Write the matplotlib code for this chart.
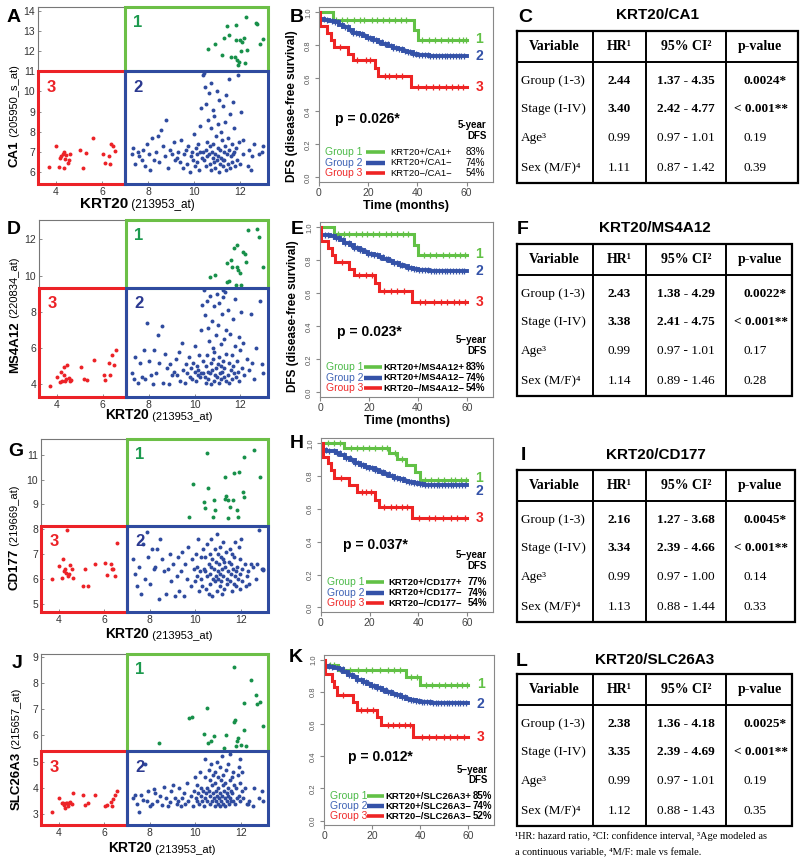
import numpy as np
import matplotlib
matplotlib.use("Agg")
import matplotlib.pyplot as plt
from matplotlib.patches import Rectangle

plt.rcParams['font.family'] = ['Liberation Sans', 'DejaVu Sans']
SERIF = ['Liberation Serif', 'DejaVu Serif']

# ---------------- scatter data (KRT20 vs marker gene) ----------------
# KRT20 negative patients (group 3)
krt20_neg = [3.71, 4.00, 4.15, 4.19, 4.22, 4.29, 4.33, 4.36, 4.39, 4.44, 4.51, 4.58,
             4.63, 5.06, 5.16, 5.30, 5.60, 6.04, 6.11, 6.29, 6.33, 6.40, 6.47, 6.58]
# KRT20 positive patients (groups 1 and 2)
krt20_pos = [7.28, 7.35, 7.42, 7.55, 7.60, 7.72, 7.78, 7.86, 7.93, 8.02, 8.08, 8.17, 8.24,
             8.33, 8.41, 8.47, 8.56, 8.63, 8.72, 8.79, 8.88, 8.94, 9.03, 9.11, 9.18,
             9.24, 9.30, 9.38, 9.44, 9.50, 9.57, 9.63, 9.69, 9.74, 9.80, 9.84, 9.90, 9.95,
             10.00, 10.03, 10.07, 10.10, 10.14, 10.17, 10.20, 10.24, 10.27, 10.30, 10.33, 10.37,
             10.41, 10.44, 10.45, 10.49, 10.51, 10.53, 10.54, 10.57, 10.59, 10.60,
             10.63, 10.66, 10.67, 10.68, 10.71, 10.73, 10.74, 10.77, 10.80, 10.81,
             10.83, 10.85, 10.86, 10.89, 10.91, 10.92, 10.95, 10.97, 10.99, 11.01,
             11.02, 11.05, 11.07, 11.08, 11.11, 11.13, 11.14, 11.17, 11.19, 11.21,
             11.23, 11.24, 11.27, 11.29, 11.30, 11.33, 11.35, 11.36, 11.39, 11.41,
             11.43, 11.45, 11.46, 11.49, 11.51, 11.52, 11.55, 11.57, 11.58, 11.61,
             11.63, 11.64, 11.67, 11.69, 11.71, 11.72, 11.75, 11.77, 11.79, 11.80,
             11.83, 11.85, 11.86, 11.89, 11.91, 11.93, 11.95, 11.97, 11.99, 12.02,
             12.04, 12.07, 12.10, 12.13, 12.16, 12.20, 12.24, 12.28, 10.38, 11.26,
             12.32, 12.38, 12.45, 12.52, 12.60, 12.66, 12.72, 12.80, 12.86, 12.93, 13.00, 12.97]

ca1_neg = [6.25, 7.29, 6.25, 6.71, 6.79, 6.87, 6.21, 6.99, 6.66, 6.83, 6.46, 6.59,
           6.87, 7.09, 6.21, 6.92, 7.70, 6.87, 6.46, 6.79, 6.38, 7.37, 7.29, 7.04]
ca1_pos = [6.9, 7.2, 6.4, 7.0, 6.8, 6.6, 7.1, 6.3, 7.4, 6.9, 6.1, 7.7, 6.6, 7.0, 7.8,
           6.5, 8.1, 7.3, 6.8, 8.6, 6.2, 7.1, 6.9, 7.5, 6.6,
           6.7, 7.0, 6.5, 7.6, 6.2, 6.9, 7.1, 6.4, 7.3, 6.0, 6.8, 7.0, 6.6, 7.9, 6.3,
           7.2, 6.9, 6.5, 7.4, 6.1, 8.3, 7.0, 9.2, 6.7, 10.8,
           10.9, 6.6, 10.2, 7.1, 6.3, 9.4, 7.5, 6.8, 8.6, 12.1,
           6.9, 9.9, 6.4, 7.3, 8.2, 6.1, 10.4, 7.0, 6.7, 9.1,
           7.4, 6.5, 8.8, 6.9, 12.35, 6.2, 7.8, 10.0, 6.6, 7.2,
           8.4, 6.8, 6.0, 9.6, 7.1, 6.4, 8.0, 6.7, 7.6, 11.82,
           6.3, 9.3, 7.0, 12.65, 6.6, 8.5, 7.3, 6.1, 9.8, 13.26,
           6.9, 7.7, 6.4, 10.6, 12.81, 7.1, 6.2, 8.9, 6.8, 11.71,
           7.4, 6.5, 9.5, 6.9, 8.2, 7.0, 11.71, 6.3, 13.31, 7.2,
           12.56, 6.6, 11.57, 11.33, 10.8, 7.5, 11.49, 6.4, 12.56, 11.99,
           9.0, 12.48, 6.9, 7.6, 12.65, 11.44, 13.69, 12.07, 7.0, 6.6,
           6.3, 7.1, 6.1, 6.8, 7.4, 13.42, 13.36, 6.9, 12.37, 7.0, 7.3, 12.6]

ms4a12_neg = [3.92, 4.41, 4.14, 4.69, 4.17, 4.97, 4.54, 4.17, 4.30, 5.09, 4.36, 4.17,
              4.25, 4.97, 4.32, 4.23, 5.33, 4.54, 4.23, 5.15, 4.54, 5.60, 5.09, 5.89]
ms4a12_pos = [4.6, 4.3, 5.5, 4.1, 5.2, 4.4, 5.9, 4.3, 7.4, 5.3, 4.5, 4.0, 5.9, 4.6, 6.7,
              5.2, 7.2, 4.1, 5.7, 4.9, 4.0, 5.1, 4.5, 4.7, 5.4,
              4.5, 5.8, 4.2, 6.3, 4.8, 4.1, 5.1, 4.6, 5.5, 4.4, 4.9, 4.3, 5.2, 4.7, 6.1,
              4.2, 5.0, 4.5, 4.8, 5.6, 4.4, 7.0, 4.6, 8.4, 5.3,
              9.2, 4.4, 7.8, 5.0, 4.1, 8.6, 5.6, 4.7, 7.1, 4.3,
              6.4, 9.94, 4.6, 8.9, 5.2, 4.0, 7.5, 4.8, 6.0, 5.4,
              4.2, 8.3, 5.8, 4.5, 10.03, 6.7, 4.9, 9.0, 4.4, 5.1,
              7.3, 4.1, 5.5, 8.5, 4.6, 6.2, 4.3, 5.0, 7.9, 4.7,
              5.3, 8.8, 4.4, 6.5, 4.9, 9.1, 4.2, 5.7, 7.0, 10.67,
              9.66, 4.5, 8.1, 5.2, 9.70, 4.1, 6.8, 4.8, 10.86, 5.6,
              10.49, 4.3, 7.6, 5.0, 11.50, 4.6, 6.1, 8.7, 9.48, 4.4,
              11.69, 5.3, 10.49, 10.31, 4.7, 6.6, 4.2, 10.12, 5.9, 8.0,
              9.48, 4.9, 6.3, 11.32, 4.5, 11.17, 10.77, 5.4, 4.6, 9.2,
              12.52, 4.8, 7.9, 5.2, 4.3, 6.0, 12.57, 12.15, 8.6, 5.1, 10.49, 4.6]

cd177_neg = [5.98, 6.52, 6.02, 6.79, 6.33, 6.42, 6.25, 7.97, 6.11, 6.20, 6.58, 6.42,
             6.05, 5.71, 6.38, 5.71, 6.62, 6.65, 6.15, 6.62, 6.42, 6.42, 6.11, 7.46]
cd177_pos = [6.8, 6.2, 5.7, 6.5, 5.4, 7.4, 6.0, 7.9, 6.9, 5.8, 7.2, 6.4, 6.5, 7.2, 5.2,
             7.6, 6.8, 6.3, 5.4, 6.4, 7.0, 5.9, 6.6, 5.3, 6.1,
             6.9, 5.5, 6.3, 7.1, 5.3, 6.6, 6.0, 7.3, 8.5, 5.7, 6.8, 9.8, 6.4, 5.9, 7.0,
             6.1, 6.5, 7.6, 5.5, 6.3, 6.9, 6.0, 5.7, 7.2, 6.4,
             6.3, 6.9, 8.84, 5.6, 11.05, 7.4, 6.1, 9.67, 6.6, 5.4,
             7.0, 6.2, 5.8, 7.6, 6.5, 5.3, 6.8, 8.5, 6.0, 9.17,
             6.4, 7.2, 8.77, 5.9, 6.7, 6.1, 7.8, 5.5, 6.3, 7.0,
             6.0, 6.6, 5.7, 7.3, 6.2, 5.9, 6.9, 6.4, 5.4, 7.5,
             6.1, 6.8, 5.6, 10.11, 9.2, 6.5, 9.34, 7.1, 6.0, 5.8,
             9.17, 8.46, 6.3, 6.7, 8.88, 5.9, 7.2, 6.2, 6.6, 5.5,
             7.0, 9.17, 6.4, 5.8, 10.25, 6.9, 6.1, 7.5, 6.3, 5.7,
             8.77, 6.5, 8.5, 6.0, 7.3, 10.29, 5.6, 6.8, 6.2, 7.6,
             6.4, 5.9, 9.51, 9.31, 10.92, 6.6, 5.7, 6.1, 9.1, 6.7,
             6.3, 5.8, 6.6, 6.5, 11.19, 6.0, 6.6, 7.95, 10.11, 6.4, 6.4, 6.35]

slc26a3_neg = [3.08, 3.62, 3.41, 3.43, 3.37, 3.24, 3.43, 3.41, 3.33, 3.43, 3.46, 3.38,
               3.81, 3.72, 3.37, 3.42, 3.75, 3.30, 3.37, 3.46, 3.30, 3.58, 3.75, 3.87]
slc26a3_pos = [3.6, 3.75, 3.4, 3.1, 3.75, 3.55, 4.9, 3.5, 3.9, 3.3, 3.4, 3.95, 3.8, 3.5, 5.7,
               3.7, 3.35, 4.05, 3.6, 3.3, 3.45, 3.9, 4.1, 3.6, 3.4,
               3.5, 4.0, 3.3, 3.6, 3.8, 3.4, 4.2, 3.5, 6.65, 3.7, 6.7, 3.3, 3.9, 4.4, 3.6,
               3.5, 4.1, 3.8, 3.4, 4.6, 3.7, 4.0, 3.5, 3.9, 3.3,
               4.4, 3.6, 5.1, 3.8, 7.04, 4.0, 3.5, 5.71, 4.7, 3.9,
               3.4, 4.3, 3.7, 4.9, 5.77, 3.5, 4.1, 3.8, 4.5, 5.99,
               3.6, 4.2, 3.3, 4.6, 3.9, 3.5, 5.0, 3.7, 4.4, 3.4,
               4.0, 3.6, 4.8, 3.3, 3.8, 4.3, 3.5, 5.2, 3.7, 4.1,
               3.4, 4.5, 3.9, 3.6, 4.2, 3.3, 6.03, 4.7, 3.8, 3.5,
               4.0, 3.7, 4.9, 3.4, 4.3, 3.6, 5.3, 3.9, 3.5, 4.4,
               3.8, 4.6, 3.5, 8.62, 6.53, 4.1, 6.6, 3.4, 5.58, 4.0,
               3.6, 5.8, 4.5, 5.9, 3.7, 4.8, 3.5, 5.1, 4.2, 5.65,
               3.9, 4.6, 3.6, 7.23, 6.22, 4.0, 5.58, 3.4, 6.06, 5.52,
               3.4, 3.5, 8.11, 3.3, 4.0, 7.54, 7.19, 3.6, 7.29, 3.9, 6.37, 3.5]

genes = ['CA1', 'MS4A12', 'CD177', 'SLC26A3']
probes = ['(205950_s_at)', '(220834_at)', '(219669_at)', '(215657_at)']
gene_neg = [ca1_neg, ms4a12_neg, cd177_neg, slc26a3_neg]
gene_pos = [ca1_pos, ms4a12_pos, cd177_pos, slc26a3_pos]
gene_cut = [11.0, 9.33, 8.14, 5.39]
krt20_cut = 7.0
gene_ylim = [(5.4, 14.2), (3.3, 13.07), (4.67, 11.63), (2.59, 9.1)]
gene_yticks = [range(6, 15), [4, 6, 8, 10, 12], range(5, 12), range(3, 10)]

# ---------------- Kaplan-Meier data ----------------
blue_t = [0, 2.2, 4.1, 6.3, 8.0, 9.8, 12.1, 13.9, 16.2, 18.0, 19.7, 22.1, 24.0, 25.8,
          28.1, 29.9, 32.2, 34.0, 35.8, 38.1, 39.9, 42.2, 44.5]
km_green_t = [[0, 5.7, 38.4, 40.4], [0, 5.7, 38.4, 40.0],
              [0, 9.5, 28.0, 31.4, 34.8, 38.5, 40.5], [0, 5.9, 33.9, 40.0]]
km_green_s = [[1.0, 0.952, 0.895, 0.83], [1.0, 0.958, 0.894, 0.833],
              [1.0, 0.969, 0.939, 0.902, 0.867, 0.827, 0.776], [0.967, 0.939, 0.895, 0.846]]
km_blue_s = [
    [0.957, 0.953, 0.948, 0.94, 0.925, 0.908, 0.893, 0.877, 0.866, 0.854, 0.843, 0.833,
     0.822, 0.81, 0.797, 0.786, 0.775, 0.765, 0.757, 0.75, 0.744, 0.74, 0.738],
    [0.955, 0.951, 0.946, 0.938, 0.924, 0.906, 0.892, 0.876, 0.864, 0.852, 0.841, 0.83,
     0.819, 0.808, 0.796, 0.785, 0.774, 0.764, 0.756, 0.749, 0.743, 0.739, 0.737],
    [0.959, 0.955, 0.95, 0.942, 0.928, 0.912, 0.897, 0.882, 0.87, 0.858, 0.847, 0.836,
     0.825, 0.814, 0.802, 0.791, 0.78, 0.77, 0.762, 0.756, 0.75, 0.747, 0.745],
    [0.962, 0.957, 0.951, 0.942, 0.927, 0.909, 0.893, 0.877, 0.864, 0.851, 0.839, 0.828,
     0.816, 0.804, 0.791, 0.78, 0.769, 0.759, 0.751, 0.745, 0.739, 0.736, 0.734]]
km_red_t = [[0, 0.6, 3.1, 4.8, 6.0, 11.8, 13.9, 22.6, 24.0, 37.4],
            [0, 0.6, 3.1, 4.8, 6.0, 11.8, 13.9, 22.6, 24.0, 37.4],
            [0, 0.7, 2.7, 4.1, 5.5, 11.6, 14.6, 22.2, 23.9, 37.5],
            [0, 0.3, 3.2, 4.1, 5.2, 12.1, 13.9, 22.0, 23.9, 37.2]]
km_red_s = [[1.0, 0.917, 0.875, 0.833, 0.792, 0.75, 0.708, 0.663, 0.612, 0.545],
            [1.0, 0.917, 0.875, 0.833, 0.792, 0.75, 0.708, 0.663, 0.612, 0.545],
            [1.0, 0.918, 0.878, 0.837, 0.786, 0.745, 0.704, 0.653, 0.612, 0.545],
            [1.0, 0.912, 0.871, 0.834, 0.783, 0.738, 0.686, 0.645, 0.594, 0.518]]
green_cens = [[6.8, 9.5, 11.2, 14.1, 16.5, 18.2, 21.4, 23.6, 26.1, 28.3, 30.9, 33.2, 35.5,
               41.8, 44.5, 47.2, 49.6, 52.3, 54.1, 56.8, 58.5, 59.6],
              [7.2, 9.9, 12.0, 14.6, 17.1, 19.4, 21.8, 24.3, 26.9, 29.0, 31.5, 33.8, 36.0,
               42.3, 45.1, 47.6, 50.2, 52.9, 55.0, 57.3, 59.2],
              [3.0, 5.5, 7.8, 12.4, 14.6, 17.2, 19.9, 22.3, 25.1, 27.2, 30.6, 33.5, 42.6,
               45.3, 48.1, 50.7, 53.4, 55.2, 57.6, 59.5],
              [2.5, 4.1, 8.3, 11.0, 14.2, 17.5, 20.1, 23.4, 26.6, 29.3, 31.8, 36.2, 38.5,
               42.4, 45.0, 47.9, 50.3, 52.8, 55.5, 57.4, 59.3]]
red_cens = [[8.5, 15.6, 19.1, 20.8, 26.7, 28.4, 31.2, 33.9, 40.3, 43.5, 46.2, 48.8, 51.5,
             54.0, 56.3, 58.7],
            [8.8, 16.0, 18.7, 21.2, 26.3, 28.9, 31.6, 34.4, 40.8, 43.1, 46.7, 49.3, 51.9,
             54.6, 56.9, 59.1],
            [8.1, 16.9, 18.5, 20.4, 26.0, 28.6, 30.8, 33.2, 35.4, 40.1, 44.2, 47.0, 50.3,
             53.6, 56.1, 59.0],
            [7.9, 15.2, 17.8, 20.3, 26.5, 28.8, 31.1, 33.6, 35.9, 40.6, 43.8, 46.4, 49.7,
             52.5, 55.3, 58.4]]
blue_cens = [2.1, 3.4, 5.2, 6.6, 7.9, 9.3, 10.4, 11.8, 12.7, 13.9, 15.2, 16.4, 17.3, 18.6,
             19.8, 20.9, 22.1, 23.2, 24.5, 25.6, 26.8, 27.9, 29.1, 30.2, 31.4, 32.5, 33.7,
             34.8, 36.0, 37.1, 38.3, 39.4, 40.6, 41.7, 42.9, 44.1, 45.2, 46.4, 47.5, 48.7,
             49.8, 51.0, 52.1, 53.3, 54.4, 55.6, 56.7, 57.9, 59.0]
p_values = ['p = 0.026*', 'p = 0.023*', 'p = 0.037*', 'p = 0.012*']
five_year = [['83%', '74%', '54%'], ['83%', '74%', '54%'],
             ['77%', '74%', '54%'], ['85%', '74%', '52%']]

# ---------------- Cox regression tables ----------------
variables = ['Group (1-3)', 'Stage (I-IV)', 'Age\u00b3', 'Sex (M/F)\u2074']
hr_vals = [['2.44', '3.40', '0.99', '1.11'], ['2.43', '3.38', '0.99', '1.14'],
           ['2.16', '3.34', '0.99', '1.13'], ['2.38', '3.35', '0.99', '1.12']]
ci_vals = [['1.37 - 4.35', '2.42 - 4.77', '0.97 - 1.01', '0.87 - 1.42'],
           ['1.38 - 4.29', '2.41 - 4.75', '0.97 - 1.01', '0.89 - 1.46'],
           ['1.27 - 3.68', '2.39 - 4.66', '0.97 - 1.00', '0.88 - 1.44'],
           ['1.36 - 4.18', '2.39 - 4.69', '0.97 - 1.01', '0.88 - 1.43']]
p_vals = [['0.0024*', '< 0.001**', '0.19', '0.39'], ['0.0022*', '< 0.001**', '0.17', '0.28'],
          ['0.0045*', '< 0.001**', '0.14', '0.33'], ['0.0025*', '< 0.001**', '0.19', '0.35']]

# ---------------- colours ----------------
C_RED = '#ec2227'
C_GPT = '#17904a'
C_GBOX = '#6cbf47'
C_BLU = '#2f4b9f'
C_N1 = '#1c9a4e'
C_N2 = '#2b3990'
KM_G = '#62c146'
KM_B = '#3452a8'
KM_R = '#ee2424'

W, H = 800, 866
fig = plt.figure(figsize=(8, 8.66), dpi=100)
ov = fig.add_axes([0, 0, 1, 1], zorder=5)
ov.set_xlim(0, W)
ov.set_ylim(H, 0)
ov.axis('off')


def px_axes(x0, y0, x1, y1):
    return fig.add_axes([x0 / W, 1 - y1 / H, (x1 - x0) / W, (y1 - y0) / H])


# ---------------- scatter panels ----------------
sc_boxes = [(38, 7, 268, 184), (39, 220, 268, 397), (41, 439, 268, 612), (41, 654, 268, 825)]
ylab_pos = [(15, 167), (15, 373), (15, 590), (17, 810)]
xlab_pos = [(80, 204), (105, 415), (105, 634), (108, 848)]
xlab_size = [(11, 8.5), (10, 8), (10, 8), (10, 8)]

for k in range(4):
    ax = px_axes(*sc_boxes[k])
    xp = np.array(krt20_pos)
    yp = np.array(gene_pos[k])
    up = yp > gene_cut[k]
    ax.scatter(xp[~up], yp[~up], s=8, c=C_BLU, lw=0, zorder=2)
    ax.scatter(xp[up], yp[up], s=8, c=C_GPT, lw=0, zorder=2)
    ax.scatter(krt20_neg, gene_neg[k], s=8, c=C_RED, lw=0, zorder=2)
    xl = (3.22, 13.2)
    yl = gene_ylim[k]
    ax.set_xlim(*xl)
    ax.set_ylim(*yl)
    cut = gene_cut[k]
    ax.add_patch(Rectangle((xl[0], yl[0]), krt20_cut - xl[0], cut - yl[0], fill=False,
                           ec=C_RED, lw=2.2, zorder=3, clip_on=False))
    ax.add_patch(Rectangle((krt20_cut, cut), xl[1] - krt20_cut, yl[1] - cut, fill=False,
                           ec=C_GBOX, lw=2.2, zorder=3, clip_on=False))
    ax.add_patch(Rectangle((krt20_cut, yl[0]), xl[1] - krt20_cut, cut - yl[0], fill=False,
                           ec=C_BLU, lw=2.2, zorder=4, clip_on=False))
    for lab, xy, col in [('1', (krt20_cut, yl[1]), C_N1), ('2', (krt20_cut, cut), C_N2),
                         ('3', (xl[0], cut), C_RED)]:
        ax.annotate(lab, xy=xy, xytext=(6, -6), textcoords='offset points', ha='left',
                    va='top', color=col, weight='bold', size=12, zorder=5)
    ax.set_xticks([4, 6, 8, 10, 12])
    ax.set_yticks(list(gene_yticks[k]))
    ax.tick_params(direction='in', length=2.5, width=0.6, color='#777', labelsize=7.5,
                   labelcolor='#333', pad=2)
    for sp in ax.spines.values():
        sp.set_color('#777')
        sp.set_linewidth(0.8)
    # axis labels: bold gene name + probe id
    bx, by = ylab_pos[k]
    t1 = ov.text(bx, by, genes[k], rotation=90, ha='center', va='bottom', weight='bold',
                 size=9.5)
    ov.annotate(' ' + probes[k], xy=(0.5, 1), xycoords=t1, rotation=90, ha='center',
                va='bottom', size=8)
    lx, ly = xlab_pos[k]
    t2 = ov.text(lx, ly, 'KRT20', ha='left', va='center', weight='bold', size=xlab_size[k][0])
    ov.annotate(' (213953_at)', xy=(1, 0), xycoords=t2, ha='left', va='bottom',
                size=xlab_size[k][1])

# ---------------- Kaplan-Meier panels ----------------
km_boxes = [(319, 7, 493, 182), (320, 222, 493, 397), (321, 438, 493, 612), (324, 655, 494, 825)]
p_xy = [(6.4, 0.356), (7.1, 0.365), (8.9, 0.378), (10.0, 0.393)]
num_y = [[0.838, 0.737, 0.545], [0.837, 0.736, 0.545], [0.786, 0.71, 0.543], [0.85, 0.727, 0.52]]
leg_line = [(18.9, 27.0), (18.0, 25.2), (18.4, 25.9), (17.7, 24.8)]
leg_lab_x = [29.1, 25.7, 27.6, 25.5]
pct_x = [59.5, 59.5, 60.4, 62.0]
leg_weight = ['normal', 'bold', 'bold', 'bold']
leg_rows = [0.152, 0.089, 0.026]
ylab_y = [0.434, 0.46]


def surv_at(t, s, ct):
    idx = np.searchsorted(t, ct, side='right') - 1
    return np.array(s)[idx]


for k in range(4):
    ax = px_axes(*km_boxes[k])
    curves = [(km_green_t[k], km_green_s[k], KM_G, 2.2, green_cens[k]),
              (blue_t, km_blue_s[k], KM_B, 2.8, blue_cens),
              (km_red_t[k], km_red_s[k], KM_R, 2.2, red_cens[k])]
    for t, s, col, lw, cens in curves:
        ax.step(list(t) + [60], list(s) + [s[-1]], where='post', color=col, lw=lw,
                solid_joinstyle='miter')
        ax.plot(cens, surv_at(t, s, cens), ls='', marker='|', ms=4, mew=0.9, color=col)
    for lab, y, col in zip(['1', '2', '3'], num_y[k], [KM_G, KM_B, KM_R]):
        ax.text(63.5, y, lab, color=col, weight='bold', size=10, ha='left', va='center')
    ax.text(p_xy[k][0], p_xy[k][1], p_values[k], weight='bold', size=10, ha='left',
            va='center')
    ax.text(68, 0.318, '5-year' if k == 0 else '5\u2212year', weight='bold', size=7,
            ha='right', va='center')
    ax.text(68, 0.252, 'DFS', weight='bold', size=7, ha='right', va='center')
    sign = [('+', '+'), ('+', '\u2212'), ('\u2212', '\u2212')]
    grp_cols = ['#4cba48', '#3e63b5', '#ee2a2a']
    for i in range(3):
        y = leg_rows[i]
        ax.text(2.5, y, 'Group %d' % (i + 1), color=grp_cols[i], size=7.5, ha='left',
                va='center')
        ax.plot(leg_line[k], [y, y], color=[KM_G, KM_B, KM_R][i], lw=2.6 if i != 1 else 3.2,
                solid_capstyle='butt')
        ax.text(leg_lab_x[k], y, 'KRT20%s/%s%s' % (sign[i][0], genes[k], sign[i][1]),
                size=6.8, weight=leg_weight[k], ha='left', va='center')
        ax.text(pct_x[k], y, five_year[k][i], size=7, weight=leg_weight[k], ha='left',
                va='center')
    ax.set_xlim(0, 70.7)
    ax.set_ylim(-0.028, 1.032)
    ax.set_xticks([0, 20, 40, 60])
    ax.set_yticks([0, 0.2, 0.4, 0.6, 0.8, 1.0])
    ax.set_yticklabels(['0.0', '0.2', '0.4', '0.6', '0.8', '1.0'], rotation=90, va='center')
    ax.tick_params(axis='y', labelsize=5.5, labelcolor='#555', length=3, color='#888',
                   pad=2)
    ax.tick_params(axis='x', labelsize=7.5, labelcolor='#444', length=3, color='#888',
                   pad=1.5)
    for sp in ax.spines.values():
        sp.set_color('#888')
        sp.set_linewidth(0.8)
    if k < 2:
        ax.set_ylabel('DFS (disease-free survival)', weight='bold', size=8.5)
        ax.yaxis.set_label_coords(-0.12, ylab_y[k])
        ax.set_xlabel('Time (months)', weight='bold', size=9, labelpad=1)

# ---------------- tables ----------------
tab_title_y = [15, 228, 455, 660]
tab_top = [31, 244, 470, 674]
tab_right = [798, 792, 795, 792]
TL = 517
for k in range(4):
    top = tab_top[k]
    right = tab_right[k]
    hdr = top + 30.5
    bot = top + 151.5
    cols = [TL, 592.7, 646, 725.5, right]
    ov.text((TL + right) / 2, tab_title_y[k], 'KRT20/' + genes[k], ha='center',
            va='center', weight='bold', size=11)
    ov.plot([TL, right, right, TL, TL], [top, top, bot, bot, top], color='k', lw=1.6,
            solid_joinstyle='miter')
    ov.plot([TL, right], [hdr, hdr], color='k', lw=1.4)
    for c in cols[1:-1]:
        ov.plot([c, c], [top, bot], color='k', lw=1.4)
    hy = top + 15.5
    for txt, cx in [('Variable', 554.5), ('HR\u00b9', 619.5), ('95% CI\u00b2', 686),
                    ('p-value', 760)]:
        ov.text(cx, hy, txt, ha='center', va='center', weight='bold', size=10,
                family=SERIF)
    for r, dy in enumerate([50, 78, 107, 137]):
        y = top + dy
        w = 'bold' if r < 2 else 'normal'
        ov.text(TL + 4, y, variables[r], ha='left', va='center', size=9.5, family=SERIF)
        ov.text(619.5, y, hr_vals[k][r], ha='center', va='center', size=9.5, weight=w,
                family=SERIF)
        ov.text(686, y, ci_vals[k][r], ha='center', va='center', size=9.5, weight=w,
                family=SERIF)
        px = 734 if p_vals[k][r].startswith('<') else 743
        ov.text(px, y, p_vals[k][r], ha='left', va='center', size=9.5, weight=w,
                family=SERIF)

ov.text(515, 836, '\u00b9HR: hazard ratio, \u00b2CI: confidence interval, \u00b3Age modeled as',
        ha='left', va='center', size=7.5, family=SERIF)
ov.text(515, 853, 'a continuous variable, \u2074M/F: male vs female.', ha='left',
        va='center', size=7.5, family=SERIF)

# ---------------- panel letters ----------------
letters = ['A', 'B', 'C', 'D', 'E', 'F', 'G', 'H', 'I', 'J', 'K', 'L']
letter_xy = [(14, 17), (297, 17), (525, 17), (14, 230), (297, 230), (523, 229),
             (16, 451), (297, 443), (523, 455), (17, 664), (296, 658), (522, 661)]
for lt, (x, y) in zip(letters, letter_xy):
    ov.text(x, y, lt, ha='center', va='center', weight='bold', size=14)

fig.savefig('out.png', dpi=100)
